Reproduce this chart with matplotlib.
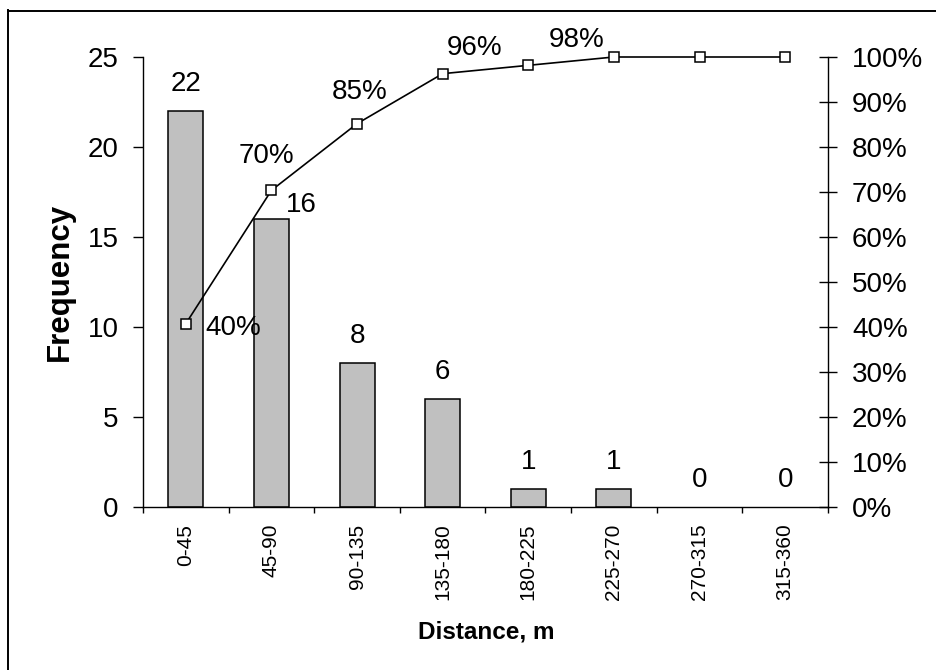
import numpy as np
import matplotlib
matplotlib.use("Agg")
import matplotlib.pyplot as plt
from matplotlib.lines import Line2D
from matplotlib.ticker import FuncFormatter, MultipleLocator

plt.rcParams["font.family"] = ["Liberation Sans", "DejaVu Sans"]

bins = ["0-45", "45-90", "90-135", "135-180", "180-225", "225-270", "270-315", "315-360"]
freq = np.array([22, 16, 8, 6, 1, 1, 0, 0])
cum = np.cumsum(freq) / freq.sum()
# only the first five cumulative points get a label
n_cum_labels = 5

W, H = 937, 670
fig = plt.figure(figsize=(W / 100, H / 100), dpi=100)

# outer chart border (left and top edges show)
fig.add_artist(Line2D([8.5 / W, 8.5 / W], [0, 1 - 10 / H], color="black", lw=1.4))
fig.add_artist(Line2D([8.5 / W, 1], [1 - 10.5 / H, 1 - 10.5 / H], color="black", lw=1.4))

ax = fig.add_axes([143 / W, (H - 507) / H, (828 - 143) / W, 450 / H])
x = np.arange(len(bins))

# empty bins get no outline
edge_w = [1.1 if v > 0 else 0 for v in freq]
ax.bar(x, freq, width=0.41, color="#c0c0c0", edgecolor="black", linewidth=edge_w, zorder=2)
ax.set_xlim(-0.5, len(bins) - 0.5)
ax.set_ylim(0, 25)
ax.yaxis.set_major_locator(MultipleLocator(5))

for s in ["top", "right"]:
    ax.spines[s].set_visible(False)
ax.spines["left"].set_linewidth(1.0)
ax.spines["bottom"].set_linewidth(1.0)
ax.spines["bottom"].set_zorder(3)

# category labels at bar centres, tick marks at the bin boundaries
ax.set_xticks(np.arange(len(bins) + 1) - 0.5)
ax.set_xticklabels([])
ax.set_xticks(x, minor=True)
ax.set_xticklabels(bins, minor=True, rotation=90, fontsize=15, va="top")
ax.tick_params(axis="x", which="major", direction="out", length=4.5, width=1)
ax.tick_params(axis="x", which="minor", length=0, pad=12)
ax.tick_params(axis="y", direction="out", length=7.2, width=1, pad=10.5, labelsize=20)

ax.set_ylabel("Frequency", fontsize=22.5, fontweight="bold")
ax.yaxis.set_label_coords(-0.099, 0.5)
fig.text(486 / W, 1 - 638 / H, "Distance, m", fontsize=17.5, fontweight="bold",
         ha="center", va="baseline")

# frequency labels over the bars
for i, v in enumerate(freq):
    dx, dy = (0, 20) if v != 16 else (30, 7)
    ax.annotate(str(v), (i, v), xytext=(dx, dy), textcoords="offset pixels",
                ha="center", va="baseline", fontsize=20)

# cumulative percentage line
ax2 = ax.twinx()
ax2.plot(x, cum, color="black", lw=1.2, marker="s", ms=7, mfc="white",
         mec="black", mew=1.1, zorder=3, clip_on=False)
ax2.set_ylim(0, 1)
ax2.yaxis.set_major_locator(MultipleLocator(0.1))
ax2.yaxis.set_major_formatter(FuncFormatter(lambda v, _: f"{v * 100:.0f}%"))
for s in ["top", "left", "bottom"]:
    ax2.spines[s].set_visible(False)
ax2.spines["right"].set_linewidth(1.0)
ax2.tick_params(axis="y", direction="inout", length=12.5, width=1, pad=11, labelsize=20)

pct_offsets = [(20, -11, "left"), (-5, 27, "center"), (3, 25, "center"),
               (32, 19, "center"), (48, 18, "center")]
for i in range(n_cum_labels):
    dx, dy, ha = pct_offsets[i]
    ax2.annotate(f"{int(cum[i] * 100)}%", (x[i], cum[i]), xytext=(dx, dy),
                 textcoords="offset pixels", ha=ha, va="baseline", fontsize=20)

fig.savefig("out.png", dpi=100)
